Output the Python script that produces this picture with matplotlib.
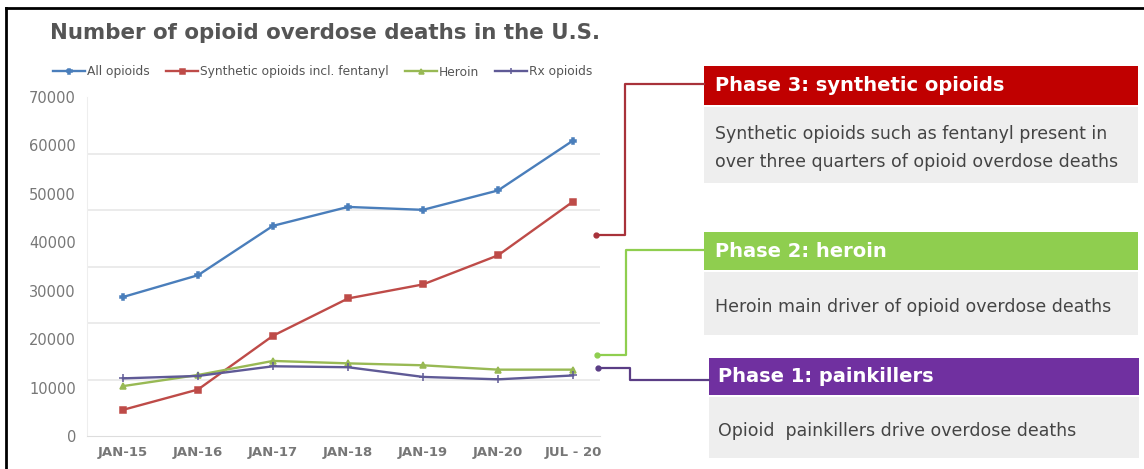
import matplotlib
matplotlib.use("Agg")
import matplotlib.pyplot as plt
from matplotlib.patches import Rectangle
from matplotlib.lines import Line2D

# ------ Data ------
periods = ["JAN-15", "JAN-16", "JAN-17", "JAN-18", "JAN-19", "JAN-20", "JUL - 20"]
all_opioids = [28700, 33200, 43400, 47300, 46700, 50700, 61000]
synthetic = [5400, 9600, 20700, 28400, 31300, 37300, 48400]
heroin = [10300, 12600, 15500, 15000, 14600, 13700, 13700]
rx_opioids = [11900, 12400, 14400, 14200, 12200, 11700, 12500]

series_names = ["All opioids", "Synthetic opioids incl. fentanyl", "Heroin", "Rx opioids"]
series_colors = ["#4a7ebb", "#be4b48", "#98b954", "#5f5a96"]
series_markers = ["P", "s", "^", "+"]

phase_titles = ["Phase 3: synthetic opioids", "Phase 2: heroin", "Phase 1: painkillers"]
phase_texts = [
    "Synthetic opioids such as fentanyl present in\nover three quarters of opioid overdose deaths",
    "Heroin main driver of opioid overdose deaths",
    "Opioid  painkillers drive overdose deaths",
]
phase_colors = ["#c00000", "#8fce4f", "#7030a0"]

W, H = 1144, 469
fig = plt.figure(figsize=(W / 100, H / 100), dpi=100)
fig.patch.set_facecolor("white")

def fx(px):
    return px / W

def fy(py):
    return 1 - py / H

# ------ Line chart ------
ax = fig.add_axes([fx(87), fy(436), fx(600) - fx(87), fy(97) - fy(436)])
x = list(range(len(periods)))
all_series = [all_opioids, synthetic, heroin, rx_opioids]
for vals, name, col, mk in zip(all_series, series_names, series_colors, series_markers):
    ax.plot(x, vals, color=col, lw=1.7, marker=mk, ms=4.5 if mk != "+" else 6,
            mew=1.1, label=name, zorder=3)

ax.set_xlim(-0.48, 6.36)
ax.set_ylim(0, 70000)
ax.set_yticks(range(0, 70001, 10000))
ax.set_yticklabels([str(v) for v in range(0, 70001, 10000)])
ax.set_xticks(x)
ax.set_xticklabels(periods)
ax.tick_params(length=0, colors="#777777")
ax.tick_params(axis="y", pad=8, labelsize=10.5)
ax.tick_params(axis="x", pad=7, labelsize=9.5)
for lab in ax.get_xticklabels():
    lab.set_fontweight("bold")

# faint gridlines (they sit off the label scale in the original)
for g in [11650, 23300, 35000, 46600, 58200]:
    ax.axhline(g, color="#e8e8e8", lw=1.2, zorder=1)

for s in ["top", "right"]:
    ax.spines[s].set_visible(False)
ax.spines["left"].set_color("#eeeeee")
ax.spines["bottom"].set_color("#dddddd")

ax.legend(loc="center", bbox_to_anchor=(0.46, 1 + 25 / 339), ncol=4, frameon=False,
          fontsize=8.8, handlelength=2.6, handletextpad=0.2, columnspacing=1.3,
          labelcolor="#555555", borderaxespad=0, markerscale=0.8)

fig.text(fx(50), fy(33), "Number of opioid overdose deaths in the U.S.",
         fontsize=15.4, fontweight="bold", color="#555555", va="center", ha="left")

# ------ Phase panels ------
header_boxes = [(704, 66, 1138, 105), (704, 232, 1138, 270), (709, 358, 1139, 395)]
body_boxes = [(704, 107, 1138, 183), (704, 272, 1138, 335), (709, 397, 1139, 458)]
text_x = [715, 715, 718]
for i, (title, text, col) in enumerate(zip(phase_titles, phase_texts, phase_colors)):
    x0, y0, x1, y1 = header_boxes[i]
    fig.patches.append(Rectangle((fx(x0), fy(y1)), fx(x1) - fx(x0), fy(y0) - fy(y1),
                                 transform=fig.transFigure, facecolor=col, edgecolor="none"))
    fig.text(fx(text_x[i]), fy((y0 + y1) / 2), title, color="white", fontsize=14,
             fontweight="bold", va="center", ha="left")
    x0, y0, x1, y1 = body_boxes[i]
    fig.patches.append(Rectangle((fx(x0), fy(y1)), fx(x1) - fx(x0), fy(y0) - fy(y1),
                                 transform=fig.transFigure, facecolor="#eeeeee", edgecolor="none"))
    fig.text(fx(text_x[i]), fy((y0 + y1) / 2 + 3), text, color="#444444", fontsize=12.5,
             va="center", ha="left", linespacing=1.75)

# ------ Connectors ------
connectors = [
    ([704, 625, 625, 596], [84, 84, 235, 235], "#a8323a"),
    ([704, 626, 626, 597], [250, 250, 355, 355], "#8fce4f"),
    ([709, 630, 630, 598], [380, 380, 368, 368], "#5a3d85"),
]
for xs, ys, col in connectors:
    fig.lines.append(Line2D([fx(v) for v in xs], [fy(v) for v in ys], color=col, lw=1.6,
                            transform=fig.transFigure))
    fig.lines.append(Line2D([fx(xs[-1])], [fy(ys[-1])], color=col, marker="o", ms=3.5,
                            transform=fig.transFigure))

# outer frame (top and left edges)
fig.lines.append(Line2D([fx(6), fx(1144)], [fy(8), fy(8)], color="black", lw=2,
                        transform=fig.transFigure))
fig.lines.append(Line2D([fx(6), fx(6)], [fy(8), fy(469)], color="black", lw=2,
                        transform=fig.transFigure))

fig.savefig("out.png", dpi=100)
